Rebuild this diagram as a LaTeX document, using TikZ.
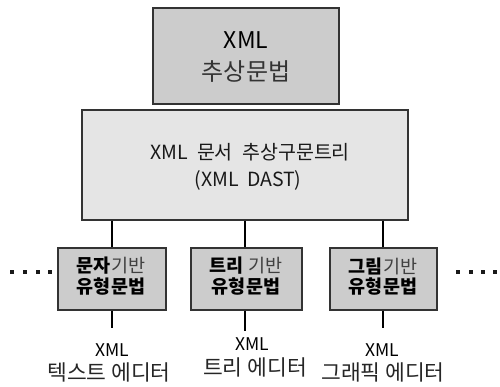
\documentclass[tikz,border=0pt]{standalone}
\usepackage{fontspec}
\setmainfont{Noto Sans CJK KR}
\begin{document}
\begin{tikzpicture}[x=1pt,y=-1pt,
  box/.style={draw=black!80,line width=1.2pt,inner sep=0pt,anchor=center},
  conn/.style={draw=black,line width=1.8pt},
  dotsq/.style={fill=black!90,minimum size=3.8pt,inner sep=0pt}]
\useasboundingbox (0,0) rectangle (500,387);
% boxes
\node[box,fill=black!20,minimum width=186pt,minimum height=96pt] (top) at (246,56) {};
\node[box,fill=black!10,minimum width=326pt,minimum height=110pt] (mid) at (245,165) {};
\node[box,fill=black!20,minimum width=108pt,minimum height=62pt] (b1) at (112,279) {};
\node[box,fill=black!20,minimum width=111pt,minimum height=62pt] (b2) at (246.5,279) {};
\node[box,fill=black!20,minimum width=107pt,minimum height=62pt] (b3) at (383.5,279) {};
% texts in top box
\node[font=\fontsize{23}{26}\selectfont] (t1) at (246,40) {XML};
\node[font=\fontsize{24}{26}\selectfont,text=black!80] (t2) at (246,72) {추상문법};
% texts in middle box
\node[font=\fontsize{19.5}{22}\selectfont,text=black!90] (m1) at (250,152) {XML\hspace{5pt} 문서\hspace{5pt} 추상구문트리};
\node[font=\fontsize{19.5}{22}\selectfont,text=black!90] (m2) at (248,180) {(XML\hspace{4pt} DAST)};
% texts in bottom boxes
\node[font=\fontsize{18.5}{20}\selectfont] (b1a) at (111,266) {\textbf{문자}\textcolor{black!75}{기반}};
\node[font=\fontsize{18.5}{20}\selectfont\bfseries] (b1b) at (111,287) {유형문법};
\node[font=\fontsize{18.5}{20}\selectfont] (b2a) at (246,266) {\textbf{트리} \textcolor{black!75}{기반}};
\node[font=\fontsize{18.5}{20}\selectfont\bfseries] (b2b) at (246,287) {유형문법};
\node[font=\fontsize{18.5}{20}\selectfont] (b3a) at (383,266) {\textbf{그림}\textcolor{black!75}{기반}};
\node[font=\fontsize{18.5}{20}\selectfont\bfseries] (b3b) at (383,287) {유형문법};
% connectors
\draw[conn] (mid.south -| 112,0) -- (b1.north -| 112,0);
\draw[conn] (mid.south -| 245,0) -- (b2.north -| 245,0);
\draw[conn] (mid.south -| 383,0) -- (b3.north -| 383,0);
\coordinate (e1) at (112,328);
\coordinate (e2) at (245,331);
\coordinate (e3) at (383,328);
\draw[conn] (b1.south -| e1) -- (e1);
\draw[conn] (b2.south -| e2) -- (e2);
\draw[conn] (b3.south -| e3) -- (e3);
% labels
\node[font=\fontsize{17.5}{20}\selectfont] (l1a) at (112,350) {XML};
\node[font=\fontsize{21.5}{24}\selectfont,text=black!85] (l1b) at (109,372) {텍스트 에디터};
\node[font=\fontsize{17.5}{20}\selectfont] (l2a) at (252,344) {XML};
\node[font=\fontsize{21.5}{24}\selectfont,text=black!85] (l2b) at (255,367) {트리 에디터};
\node[font=\fontsize{17.5}{20}\selectfont] (l3a) at (382,350) {XML};
\node[font=\fontsize{21.5}{24}\selectfont,text=black!85] (l3b) at (383,372) {그래픽 에디터};
% dots
\foreach \x [count=\i] in {12,25,38,50} \node[dotsq] (dl\i) at (\x,272) {};
\foreach \x [count=\i] in {458,471,483,495} \node[dotsq] (dr\i) at (\x,272) {};
\end{tikzpicture}
\end{document}
